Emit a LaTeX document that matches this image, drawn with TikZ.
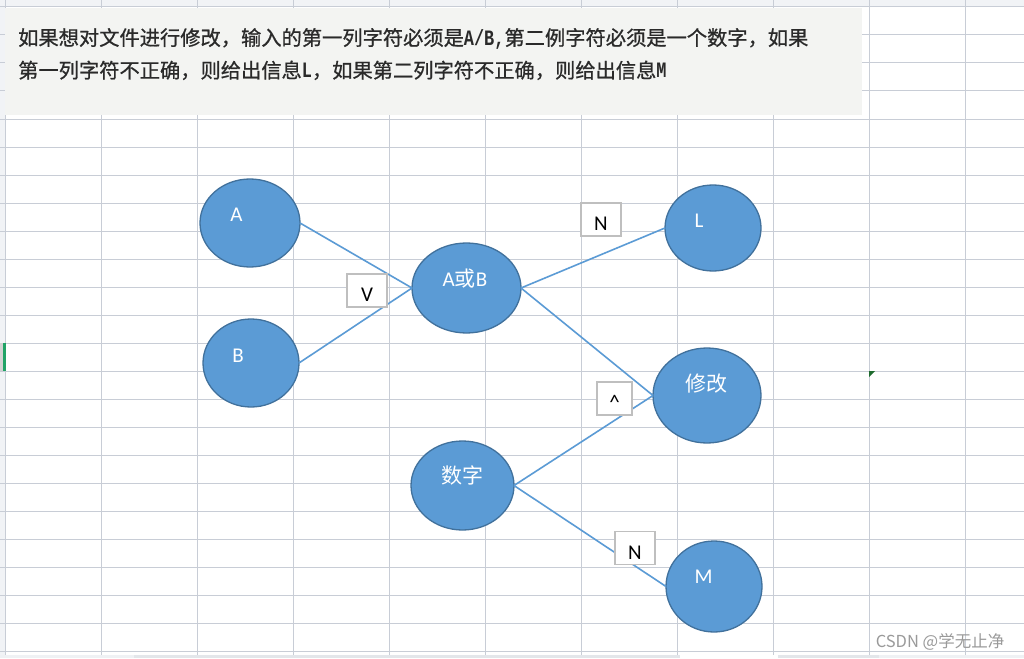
\documentclass[tikz,border=0pt]{standalone}
\usepackage{fontspec}
\usetikzlibrary{shapes.geometric}
\setmainfont{Carlito}
\newfontfamily\cjk{Noto Sans CJK SC}
\newfontfamily\cjkb{Noto Sans CJK SC}[FakeBold=0.8]
\newfontfamily\mono{Liberation Mono}
\definecolor{gridc}{HTML}{C8CDD6}
\definecolor{hdrc}{HTML}{F1F3F6}
\definecolor{boxbg}{HTML}{F3F4F2}
\definecolor{ellfill}{HTML}{5B9BD5}
\definecolor{elldraw}{HTML}{41719C}
\definecolor{connc}{HTML}{5B9BD5}
\definecolor{tagc}{HTML}{BFBFBF}
\definecolor{txtc}{HTML}{2A2A2A}
\definecolor{wmc}{HTML}{9A9A9A}
\definecolor{selc}{HTML}{21A366}
\definecolor{tric}{HTML}{1E6B2E}
\definecolor{barc}{HTML}{E3E6EA}
\definecolor{barl}{HTML}{EFF1F4}
\newcommand{\cjkt}{\cjkb\fontsize{20.26}{24}\selectfont}
\newcommand{\monot}[1]{\scalebox{1}[1.3]{\mono\bfseries\fontsize{16.9}{24}\selectfont #1}}
\tikzset{
  gridline/.style={draw=gridc, line width=1pt},
  notebox/.style={rectangle, fill=boxbg, draw=none, inner sep=0pt, anchor=north west},
  noteline/.style={anchor=base west, inner sep=0pt, text=txtc, font=\cjkt},
  ell/.style={ellipse, fill=ellfill, draw=elldraw, line width=1.3pt, inner sep=0pt, outer sep=0pt},
  elab/.style={inner sep=0pt, text=white, font=\fontsize{21}{24}\selectfont, text height=14pt, text depth=0pt},
  elabc/.style={inner sep=0pt, text=white, font=\cjk\fontsize{21}{24}\selectfont, text height=16pt, text depth=0pt},
  conn/.style={draw=connc, line width=1.6pt},
  tagbox/.style={rectangle, fill=white, draw=tagc, line width=1.8pt, inner sep=0pt,
    minimum height=33pt, text=black, font=\fontsize{21}{24}\selectfont, text height=22.6pt, text depth=0pt},
  wmark/.style={inner sep=0pt, text=wmc, font=\cjk\fontsize{16.5}{20}\selectfont, text height=12pt, text depth=0pt}
}
\begin{document}
\begin{tikzpicture}[x=1pt,y=-1pt]
\useasboundingbox (0,0) rectangle (1024,658);
\fill[white] (0,0) rectangle (1024,658);
% spreadsheet headers
\fill[hdrc] (0,0) rectangle (1024,7);
\fill[hdrc] (0,0) rectangle (5,658);
% grid
\foreach \k in {0,...,10} \draw[gridline] ({5+96*\k},0) -- ({5+96*\k},655);
\foreach \k in {0,...,23} \draw[gridline] (0,{7+28*\k}) -- (1024,{7+28*\k});
% bottom scroll band
\fill[barl] (0,655) rectangle (1024,658);
\fill[barc] (134,655) rectangle (680,658);
\fill[white] (680,655) rectangle (778,658);
\fill[barc] (778,655) rectangle (879,658);
% selection markers
\fill[gray!35] (0,343) rectangle (4,371);
\fill[selc] (3,343) rectangle (6,371);
\fill[tric] (869,371) -- (875,371) -- (869,377) -- cycle;

% note box
\node[notebox, minimum width=857pt, minimum height=107pt] (note) at (5,8) {};
\node[noteline] (l1) at (18,45.3) {如果想对文件进行修改，输入的第一列字符必须是\monot{A/B,}第二例字符必须是一个数字，如果};
\node[noteline] (l2) at (18,77.9) {第一列字符不正确，则给出信息\monot{L}，如果第二列字符不正确，则给出信息\monot{M}};

% ellipses
\node[ell, minimum width=100pt, minimum height=88pt] (A) at (250,223) {};
\node[ell, minimum width=96pt, minimum height=88pt] (B) at (251,363) {};
\node[ell, minimum width=109pt, minimum height=90pt] (AB) at (466.5,288) {};
\node[ell, minimum width=96pt, minimum height=86pt] (L) at (713,228) {};
\node[ell, minimum width=108pt, minimum height=95pt] (XG) at (707,395.5) {};
\node[ell, minimum width=103pt, minimum height=89pt] (SZ) at (462.5,485.5) {};
\node[ell, minimum width=96pt, minimum height=91pt] (M) at (714,586.5) {};

% connectors
\draw[conn] (A.east) -- (AB.west);
\draw[conn] (B.east) -- (AB.west);
\draw[conn] (AB.east) -- (L.west);
\draw[conn] (AB.east) -- (XG.west);
\draw[conn] (SZ.east) -- (XG.west);
\draw[conn] (SZ.east) -- (M.west);

% ellipse labels
\node[elab] (tA) at ([shift={(-13.5,-8.5)}]A.center) {A};
\node[elab] (tB) at ([shift={(-13,-8)}]B.center) {B};
\node[elabc] (tAB) at ([shift={(-1.5,-9.5)}]AB.center) {\setmainfont{Carlito}A{\cjk 或}B};
\node[elab] (tL) at ([shift={(-14,-8)}]L.center) {L};
\node[elabc] (tXG) at ([shift={(-1,-12.5)}]XG.center) {修改};
\node[elabc] (tSZ) at ([shift={(0,-10.5)}]SZ.center) {数字};
\node[elab] (tM) at ([shift={(-10.5,-10.5)}]M.center) {M};

% condition tags
\node[tagbox, minimum width=40pt] (tagV) at (367,290.5) {V};
\node[tagbox, minimum width=40pt] (tagN1) at (601,219.5) {N};
\node[tagbox, minimum width=35pt] (tagC) at (614.5,398.5) {\textasciicircum};
\node[tagbox, minimum width=40pt] (tagN2) at (635,548) {N};

% watermark
\node[wmark] (wm) at (940,641) {CSDN @学无止净};
\end{tikzpicture}
\end{document}
